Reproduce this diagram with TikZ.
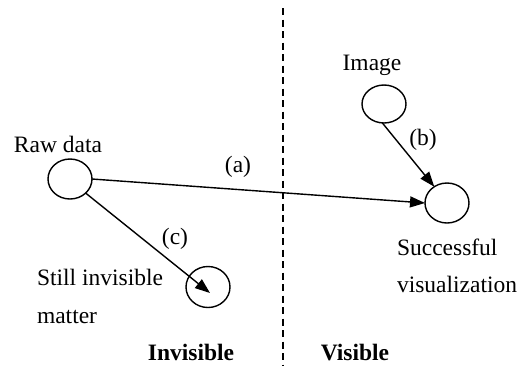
\documentclass[tikz,border=0pt]{standalone}
\usepackage{fontspec}
\setmainfont{Liberation Serif}
\usetikzlibrary{arrows.meta,shapes.geometric}
\begin{document}
\begin{tikzpicture}[x=1pt,y=-1pt,
  every node/.style={inner sep=0pt,outer sep=0pt},
  txt/.style={font=\fontsize{23.5}{28}\selectfont},
  bub/.style={draw,ellipse,line width=1.4pt,minimum width=44pt,minimum height=40pt},
  conn/.style={line width=1.4pt,-{Triangle[length=15pt,width=11pt]}},
  sep/.style={line width=1.3pt,dash pattern=on 7pt off 4.5pt}]
\useasboundingbox (0,0) rectangle (524,365);
\node[bub] (raw) at (70,179) {};
\node[bub,minimum height=38pt] (img) at (384,104) {};
\node[bub] (succ) at (447,203) {};
\node[bub,minimum height=41pt] (still) at (208,287) {};
\coordinate (top) at (283,8);
\coordinate (bot) at (283,365);
\draw[sep] (top) -- (bot);
\draw[conn] (raw.east) -- (succ.west);
\draw[conn] (img.-95) -- (succ.128);
\coordinate (stilltip) at (210,293);
\draw[conn] (raw.-42) -- (stilltip);
\node[txt,anchor=base] (lraw) at (58,152) {Raw data};
\node[txt,anchor=base] (la) at (238,172) {(a)};
\node[txt,anchor=base] (lc) at (175,244) {(c)};
\node[txt,anchor=base] (limg) at (372,70) {Image};
\node[txt,anchor=base] (lb) at (423,145) {(b)};
\node[txt,anchor=base west] (ls1) at (397,255) {Successful};
\node[txt,anchor=base west] (ls2) at (397,292) {visualization};
\node[txt,anchor=base west] (lv1) at (37,285) {Still invisible};
\node[txt,anchor=base west] (lv2) at (37,323) {matter};
\node[txt,anchor=base,font=\fontsize{23.5}{28}\selectfont\bfseries] (linv) at (191,360) {Invisible};
\node[txt,anchor=base,font=\fontsize{23.5}{28}\selectfont\bfseries] (lvis) at (355,360) {Visible};
\end{tikzpicture}
\end{document}
